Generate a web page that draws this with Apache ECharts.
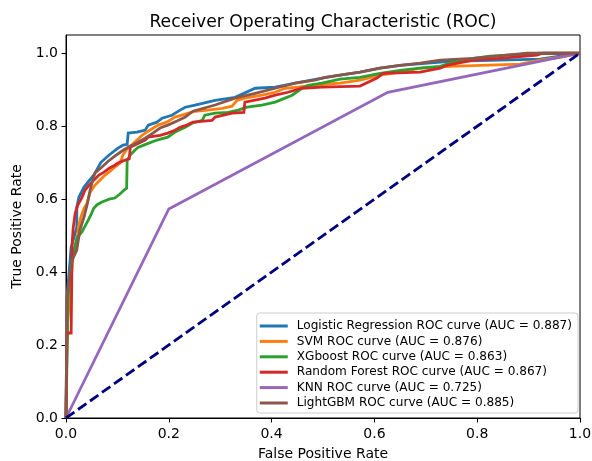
<!DOCTYPE html>
<html>
<head>
<meta charset="utf-8">
<script src="https://cdn.jsdelivr.net/npm/echarts@6/dist/echarts.min.js"></script>
<style>
html,body{margin:0;padding:0;background:#fff;}
#chart{width:592px;height:461px;}
</style>
</head>
<body>
<div id="chart"></div>
<script>
const titleText = 'Receiver Operating Characteristic (ROC)';
const xAxisName = 'False Positive Rate';
const yAxisName = 'True Positive Rate';
const tickValues = [0, 0.2, 0.4, 0.6, 0.8, 1.0];

const names = [
  'Logistic Regression ROC curve (AUC = 0.887)',
  'SVM ROC curve (AUC = 0.876)',
  'XGboost ROC curve (AUC = 0.863)',
  'Random Forest ROC curve (AUC = 0.867)',
  'KNN ROC curve (AUC = 0.725)',
  'LightGBM ROC curve (AUC = 0.885)'
];
const colors = ['#1f77b4', '#ff7f0e', '#2ca02c', '#d62728', '#9467bd', '#8c564b'];

// [fpr, tpr] points
const lrRoc = [[0,0],[0.002,0.332],[0.008,0.433],[0.010,0.468],[0.021,0.523],[0.021,0.578],[0.025,0.605],[0.035,0.633],[0.043,0.647],[0.054,0.666],[0.068,0.701],[0.084,0.721],[0.101,0.740],[0.111,0.748],[0.119,0.750],[0.121,0.781],[0.138,0.784],[0.154,0.789],[0.160,0.803],[0.177,0.811],[0.187,0.822],[0.206,0.830],[0.222,0.844],[0.232,0.852],[0.251,0.858],[0.290,0.871],[0.329,0.879],[0.368,0.904],[0.407,0.907],[0.446,0.918],[0.498,0.932],[0.533,0.940],[0.572,0.948],[0.611,0.959],[0.650,0.967],[0.747,0.978],[0.844,0.981],[0.922,0.984],[0.961,0.992],[1.0,1.0]];
const svmRoc = [[0,0],[0.002,0.241],[0.008,0.351],[0.014,0.447],[0.021,0.488],[0.025,0.529],[0.029,0.551],[0.035,0.575],[0.041,0.589],[0.047,0.619],[0.056,0.638],[0.066,0.652],[0.076,0.666],[0.086,0.677],[0.095,0.688],[0.105,0.699],[0.111,0.721],[0.121,0.742],[0.130,0.751],[0.148,0.775],[0.163,0.789],[0.179,0.803],[0.196,0.811],[0.212,0.825],[0.232,0.833],[0.251,0.841],[0.276,0.844],[0.304,0.849],[0.323,0.855],[0.333,0.871],[0.348,0.877],[0.381,0.885],[0.407,0.893],[0.426,0.904],[0.451,0.907],[0.479,0.912],[0.504,0.915],[0.533,0.918],[0.572,0.926],[0.611,0.940],[0.650,0.948],[0.689,0.959],[0.747,0.964],[0.883,0.970],[0.922,0.981],[0.961,0.989],[1.0,1.0]];
const xgbRoc = [[0,0],[0.004,0.329],[0.008,0.392],[0.012,0.438],[0.018,0.474],[0.021,0.493],[0.031,0.510],[0.037,0.526],[0.043,0.542],[0.049,0.559],[0.054,0.575],[0.060,0.584],[0.070,0.592],[0.084,0.600],[0.095,0.603],[0.105,0.614],[0.113,0.625],[0.118,0.630],[0.119,0.707],[0.125,0.721],[0.134,0.734],[0.140,0.742],[0.160,0.753],[0.177,0.762],[0.198,0.770],[0.212,0.784],[0.232,0.797],[0.245,0.808],[0.265,0.816],[0.270,0.830],[0.290,0.836],[0.315,0.838],[0.335,0.844],[0.352,0.852],[0.381,0.858],[0.407,0.866],[0.426,0.877],[0.440,0.885],[0.459,0.904],[0.471,0.912],[0.498,0.918],[0.533,0.929],[0.572,0.934],[0.611,0.945],[0.650,0.953],[0.689,0.959],[0.728,0.964],[0.747,0.973],[0.792,0.986],[0.825,0.992],[0.922,1.0],[1.0,1.0]];
const rfRoc = [[0,0],[0.002,0.233],[0.010,0.233],[0.012,0.479],[0.014,0.521],[0.018,0.562],[0.023,0.584],[0.031,0.605],[0.037,0.625],[0.045,0.638],[0.054,0.652],[0.064,0.666],[0.074,0.674],[0.084,0.685],[0.095,0.693],[0.101,0.699],[0.115,0.707],[0.123,0.710],[0.125,0.742],[0.154,0.762],[0.160,0.770],[0.183,0.775],[0.198,0.781],[0.212,0.789],[0.222,0.797],[0.235,0.803],[0.247,0.811],[0.284,0.816],[0.290,0.825],[0.323,0.836],[0.346,0.838],[0.348,0.866],[0.387,0.877],[0.407,0.885],[0.432,0.893],[0.459,0.904],[0.498,0.907],[0.572,0.910],[0.605,0.932],[0.617,0.945],[0.689,0.948],[0.728,0.959],[0.741,0.967],[0.792,0.981],[0.844,0.986],[0.916,0.995],[0.928,1.0],[1.0,1.0]];
const knnRoc = [[0,0],[0.2,0.573],[0.626,0.893],[1.0,1.0]];
const lgbmRoc = [[0,0],[0.002,0.332],[0.008,0.397],[0.012,0.433],[0.021,0.460],[0.027,0.515],[0.035,0.551],[0.041,0.584],[0.047,0.625],[0.051,0.647],[0.056,0.671],[0.070,0.688],[0.082,0.704],[0.095,0.718],[0.109,0.732],[0.121,0.742],[0.140,0.756],[0.154,0.767],[0.169,0.781],[0.183,0.795],[0.198,0.803],[0.216,0.814],[0.232,0.825],[0.247,0.841],[0.290,0.858],[0.329,0.877],[0.368,0.890],[0.407,0.904],[0.446,0.918],[0.484,0.926],[0.504,0.934],[0.533,0.940],[0.572,0.948],[0.611,0.959],[0.650,0.967],[0.689,0.973],[0.728,0.981],[0.792,0.986],[0.858,0.995],[0.897,1.0],[1.0,1.0]];
const chanceLine = [[0,0],[1,1]];

const curves = [lrRoc, svmRoc, xgbRoc, rfRoc, knnRoc, lgbmRoc];

const FONT = 'DejaVu Sans';
const chart = echarts.init(document.getElementById('chart'), null, {renderer: 'canvas'});

const series = curves.map((d, i) => ({
  name: names[i],
  type: 'line',
  data: d,
  showSymbol: false,
  symbol: 'none',
  color: colors[i],
  lineStyle: {color: colors[i], width: 2.8, join: 'miter'},
  z: 2 + i,
  silent: true
}));
series.push({
  name: 'chance',
  type: 'line',
  data: chanceLine,
  showSymbol: false,
  symbol: 'none',
  lineStyle: {color: '#000080', width: 2.8, type: [10.3, 4.4]},
  z: 10,
  silent: true
});

const axisCommon = {
  type: 'value',
  axisLine: {show: true, onZero: false, lineStyle: {color: '#000', width: 1}},
  axisTick: {show: true, inside: false, length: 4.5, lineStyle: {color: '#000', width: 1}, customValues: tickValues},
  splitLine: {show: false},
  nameLocation: 'middle',
  nameTextStyle: {fontFamily: FONT, fontSize: 14, color: '#000'}
};

chart.setOption({
  animation: false,
  backgroundColor: '#fff',
  title: {
    text: titleText,
    left: 318,
    top: 9,
    textAlign: 'center',
    textStyle: {fontFamily: FONT, fontSize: 17.2, fontWeight: 'normal', color: '#000'}
  },
  grid: {left: 66, right: 12, top: 35, bottom: 43, show: true, borderColor: '#000', borderWidth: 1,
    backgroundColor: 'transparent', containLabel: false, outerBoundsMode: 'none'},
  xAxis: Object.assign({}, axisCommon, {
    min: 0, max: 1, interval: 0.2,
    name: xAxisName, nameGap: 29,
    axisLabel: {fontFamily: FONT, fontSize: 14, color: '#000', margin: 9, customValues: tickValues,
      formatter: v => v.toFixed(1)}
  }),
  yAxis: Object.assign({}, axisCommon, {
    min: 0, max: 1.05, interval: 0.2,
    name: yAxisName, nameGap: 33,
    axisLabel: {fontFamily: FONT, fontSize: 14, color: '#000', margin: 8, customValues: tickValues,
      formatter: v => v.toFixed(1)}
  }),
  legend: {
    data: names,
    orient: 'vertical',
    right: 14,
    bottom: 48,
    icon: 'rect',
    itemWidth: 28,
    itemHeight: 3,
    itemGap: 3.4,
    padding: [7, 6, 4, 3],
    backgroundColor: 'rgba(255,255,255,0.8)',
    borderColor: '#cccccc',
    borderWidth: 1,
    borderRadius: 3,
    textStyle: {fontFamily: FONT, fontSize: 12.1, color: '#000', padding: [0, 0, 0, 4]}
  },
  series: series
});
</script>
</body>
</html>
